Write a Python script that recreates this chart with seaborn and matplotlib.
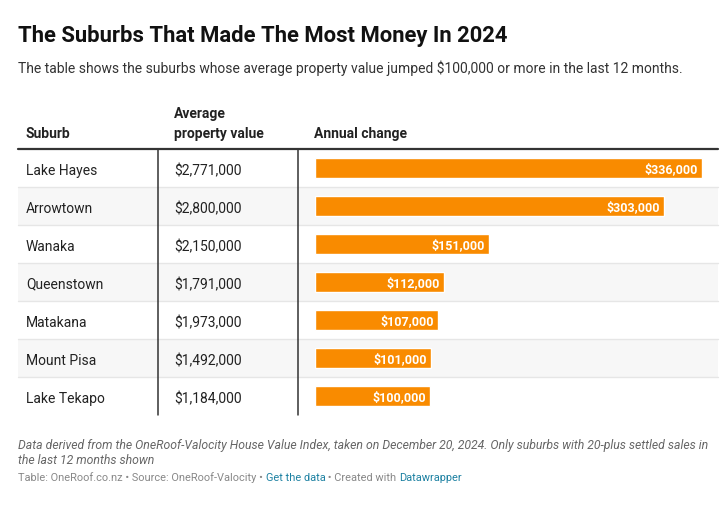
import matplotlib
matplotlib.use("Agg")
import matplotlib.pyplot as plt
import seaborn as sns
import pandas as pd

suburbs = ["Lake Hayes", "Arrowtown", "Wanaka", "Queenstown", "Matakana", "Mount Pisa", "Lake Tekapo"]
avg_values = ["$2,771,000", "$2,800,000", "$2,150,000", "$1,791,000", "$1,973,000", "$1,492,000", "$1,184,000"]
annual_change = [336000, 303000, 151000, 112000, 107000, 101000, 100000]

title = "The Suburbs That Made The Most Money In 2024"
subtitle = "The table shows the suburbs whose average property value jumped $100,000 or more in the last 12 months."
notes = ["Data derived from the OneRoof-Valocity House Value Index, taken on December 20, 2024. Only suburbs with 20-plus settled sales in",
         "the last 12 months shown"]
footer_parts = [("Table: OneRoof.co.nz \u2022 Source: OneRoof-Valocity \u2022 ", "#888888"),
                ("Get the data", "#1d81a2"),
                (" \u2022 Created with ", "#888888"),
                ("Datawrapper", "#1d81a2")]

sns.set_theme(style="white")
plt.rcParams['font.family'] = ['Roboto', 'DejaVu Sans']

W, H = 724, 506
fig = plt.figure(figsize=(W / 100, H / 100), dpi=100)

# background axes in pixel coords
bg = fig.add_axes([0, 0, 1, 1], zorder=0)
bg.set_xlim(0, W)
bg.set_ylim(H, 0)
bg.axis("off")

ORANGE = "#f98b00"
top, row_h = 150, 38
n = len(suburbs)
bottom = top + row_h * n
dy = 1.8

for i in range(n):
    y0 = top + i * row_h
    if i % 2 == 1:
        bg.add_patch(plt.Rectangle((18, y0), 700, row_h, color="#f7f7f7", lw=0))
    if i > 0:
        bg.plot([18, 718], [y0, y0], color="#e6e6e6", lw=1)
    yc = y0 + row_h / 2 + dy
    bg.text(26, yc, suburbs[i], fontsize=10, color="#222222", va="center", ha="left")
    bg.text(174, yc, avg_values[i], fontsize=10, color="#222222", va="center", ha="left")

bg.plot([18, 718], [top, top], color="#333333", lw=1.6)
bg.plot([158, 158], [top, bottom], color="#333333", lw=1.1)
bg.plot([298, 298], [top, bottom], color="#333333", lw=1.1)

bg.text(18, 34 + dy, title, fontsize=15.8, fontweight="bold", color="#111111", va="center", ha="left")
bg.text(18, 66 + dy, subtitle, fontsize=10.0, color="#333333", va="center", ha="left")
bg.text(26, 132 + dy, "Suburb", fontsize=10, fontweight="bold", color="#222222", va="center")
bg.text(174, 112 + dy, "Average", fontsize=10, fontweight="bold", color="#222222", va="center")
bg.text(174, 132 + dy, "property value", fontsize=10, fontweight="bold", color="#222222", va="center")
bg.text(314, 132 + dy, "Annual change", fontsize=10, fontweight="bold", color="#222222", va="center")

bg.text(18, 444 + dy, notes[0], fontsize=8.8, style="italic", color="#666666", va="center")
bg.text(18, 459 + dy, notes[1], fontsize=8.8, style="italic", color="#666666", va="center")

fig.canvas.draw()
renderer = fig.canvas.get_renderer()
x = 18
for txt, col in footer_parts:
    t = bg.text(x, 476 + dy, txt, fontsize=7.9, color=col, va="center", ha="left")
    bb = t.get_window_extent(renderer=renderer)
    x += bb.width

# bar axes
x0, x1 = 315, 718
scale = 387 / 336000
ax = fig.add_axes([x0 / W, 1 - bottom / H, (x1 - x0) / W, (bottom - top) / H], zorder=1)
ax.patch.set_alpha(0)
df = pd.DataFrame({"suburb": suburbs, "change": annual_change})
sns.barplot(data=df, x="change", y="suburb", orient="h", color=ORANGE, saturation=1,
            width=20 / 38, ax=ax)
ax.set_xlim(0, (x1 - x0) / scale)
ax.set_ylim(n - 0.5, -0.5)
ax.axis("off")
for i, v in enumerate(annual_change):
    ax.annotate(f"${v:,.0f}", xy=(v, i), xytext=(-3, -0.4), textcoords="offset points",
                ha="right", va="center", color="white", fontsize=9, fontweight="bold")

fig.savefig("out.png", dpi=100)
